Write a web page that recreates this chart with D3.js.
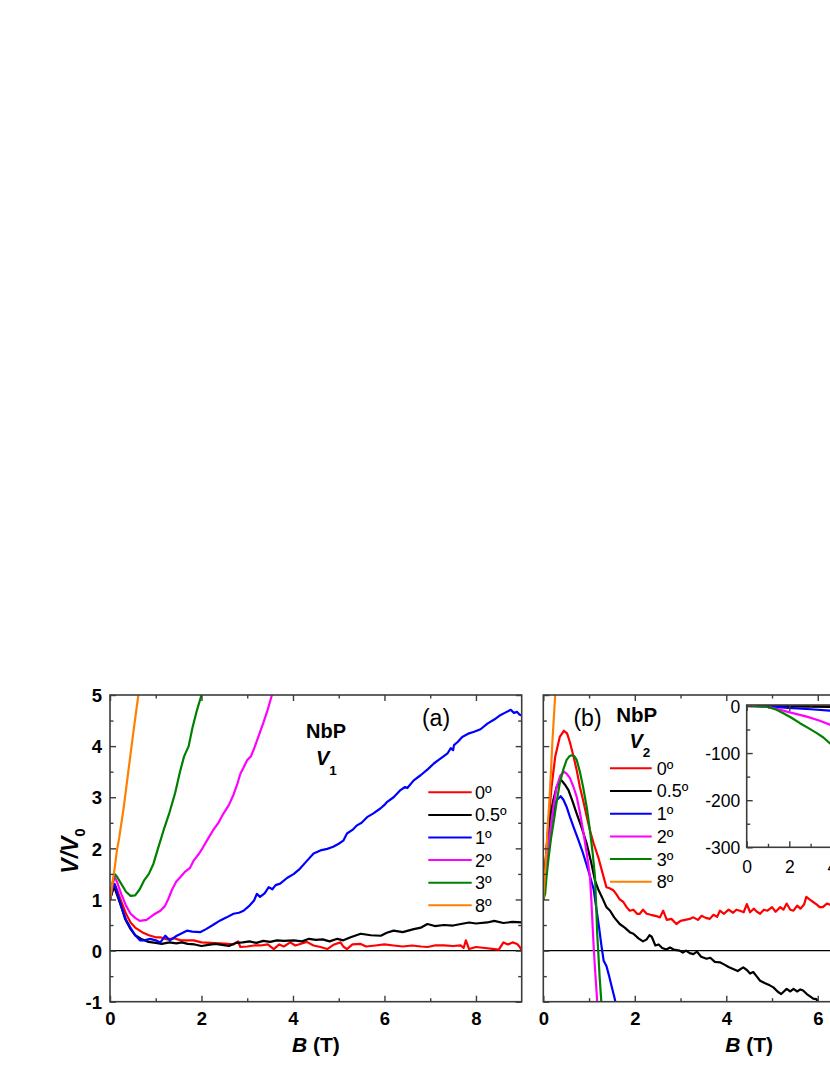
<!DOCTYPE html>
<html><head><meta charset="utf-8">
<script src="https://cdn.jsdelivr.net/npm/d3@7"></script>
<style>
html,body{margin:0;padding:0;background:#fff;}
svg{display:block;}
</style></head><body>
<svg id="chart" width="830" height="1075"></svg>
<script>
// ---------------- DATA ----------------
const angleLabels = ["0º","0.5º","1º","2º","3º","8º"];
const seriesColors = ["#ff0000","#000000","#0000ff","#ff00ff","#008000","#ff8000"];

const mainXTicks = [0,2,4,6,8];
const mainXMinor = [1,3,5,7];
const mainYTicks = [-1,0,1,2,3,4,5];
const mainYMinor = [-0.5,0.5,1.5,2.5,3.5,4.5];
const insetXTicks = [0,2,4,6,8];
const insetXMinor = [1,3,5,7];
const insetYTicks = [0,-100,-200,-300];
const insetYMinor = [-50,-150,-250];

// Panel (a): V1, [B (T), V/V0]
const a0 = [[0,1],[0.05,1.15],[0.1,1.3],[0.15,1.2],[0.25,0.95],[0.35,0.72],[0.45,0.55],[0.55,0.45],[0.7,0.36],[0.85,0.3],[1.0,0.26],[1.1,0.26],[1.25,0.22],[1.4,0.24],[1.55,0.2],[1.7,0.2],[1.83,0.2],[2.0,0.16],[2.2,0.15],[2.4,0.14],[2.56,0.13],[2.7,0.12],[2.8,0.18],[2.85,0.07],[3.0,0.08],[3.15,0.1],[3.29,0.1],[3.45,0.12],[3.58,0.03],[3.7,0.12],[3.8,0.08],[3.94,0.16],[4.05,0.1],[4.16,0.13],[4.3,0.17],[4.45,0.1],[4.6,0.07],[4.75,0.03],[4.9,0.12],[5.04,0.16],[5.1,0.08],[5.18,0.03],[5.3,0.12],[5.48,0.13],[5.6,0.08],[5.8,0.1],[6.0,0.12],[6.2,0.1],[6.4,0.08],[6.6,0.1],[6.8,0.08],[6.94,0.07],[7.1,0.1],[7.3,0.1],[7.5,0.09],[7.67,0.1],[7.73,0.05],[7.78,0.2],[7.85,0.03],[8.0,0.07],[8.2,0.05],[8.4,0.03],[8.5,0.02],[8.6,0.16],[8.7,0.12],[8.8,0.16],[8.9,0.13],[8.95,0.08],[9.0,0.0]];
const a05 = [[0,1],[0.05,1.15],[0.09,1.25],[0.15,1.1],[0.25,0.85],[0.33,0.62],[0.45,0.42],[0.55,0.3],[0.7,0.22],[0.84,0.17],[1.0,0.15],[1.13,0.13],[1.3,0.16],[1.45,0.14],[1.57,0.16],[1.7,0.13],[1.85,0.12],[2.0,0.09],[2.15,0.11],[2.3,0.13],[2.45,0.11],[2.6,0.09],[2.75,0.15],[2.9,0.16],[3.05,0.18],[3.2,0.15],[3.35,0.19],[3.5,0.17],[3.65,0.2],[3.8,0.19],[4.02,0.2],[4.2,0.18],[4.35,0.23],[4.5,0.21],[4.65,0.22],[4.8,0.18],[4.97,0.23],[5.1,0.2],[5.26,0.26],[5.48,0.33],[5.7,0.3],[5.92,0.29],[6.05,0.35],[6.2,0.39],[6.4,0.36],[6.64,0.42],[6.8,0.45],[6.94,0.52],[7.1,0.48],[7.3,0.5],[7.5,0.49],[7.67,0.52],[7.85,0.55],[8.0,0.53],[8.25,0.55],[8.4,0.58],[8.6,0.54],[8.8,0.56],[9.0,0.55]];
const a1 = [[0,1],[0.05,1.2],[0.1,1.3],[0.15,1.15],[0.25,0.85],[0.35,0.6],[0.44,0.46],[0.55,0.3],[0.66,0.2],[0.75,0.2],[0.88,0.23],[1.0,0.2],[1.1,0.16],[1.21,0.29],[1.31,0.2],[1.46,0.29],[1.55,0.33],[1.68,0.39],[1.8,0.37],[1.97,0.36],[2.1,0.42],[2.25,0.5],[2.41,0.59],[2.55,0.65],[2.7,0.72],[2.82,0.74],[2.92,0.78],[3.05,0.88],[3.15,0.98],[3.21,1.11],[3.28,1.05],[3.38,1.12],[3.47,1.24],[3.55,1.2],[3.62,1.28],[3.72,1.31],[3.87,1.42],[4.02,1.5],[4.15,1.6],[4.31,1.76],[4.45,1.9],[4.6,1.96],[4.75,1.99],[4.88,2.03],[5.0,2.09],[5.1,2.15],[5.18,2.29],[5.3,2.36],[5.4,2.45],[5.5,2.5],[5.62,2.61],[5.75,2.68],[5.91,2.78],[6.0,2.85],[6.06,2.91],[6.2,3.0],[6.35,3.14],[6.45,3.2],[6.5,3.18],[6.64,3.33],[6.79,3.43],[6.95,3.55],[7.08,3.66],[7.2,3.74],[7.38,3.86],[7.45,3.96],[7.5,3.92],[7.52,4.02],[7.6,4.08],[7.7,4.18],[7.85,4.25],[7.96,4.28],[8.1,4.33],[8.25,4.44],[8.4,4.52],[8.54,4.61],[8.65,4.66],[8.76,4.71],[8.83,4.65],[8.9,4.67],[8.95,4.62],[9.0,4.6]];
const a2 = [[0,1],[0.05,1.25],[0.1,1.45],[0.15,1.35],[0.25,1.1],[0.35,0.88],[0.45,0.72],[0.55,0.64],[0.65,0.58],[0.8,0.6],[0.95,0.7],[1.1,0.78],[1.2,0.87],[1.28,1.02],[1.36,1.2],[1.45,1.35],[1.55,1.45],[1.65,1.55],[1.75,1.62],[1.83,1.76],[1.95,1.9],[2.04,2.03],[2.15,2.2],[2.25,2.35],[2.37,2.5],[2.48,2.68],[2.6,2.85],[2.7,3.05],[2.78,3.25],[2.85,3.46],[2.92,3.58],[3.0,3.73],[3.08,3.8],[3.15,3.95],[3.25,4.2],[3.35,4.45],[3.45,4.72],[3.54,5.0]];
const a3 = [[0,1],[0.05,1.3],[0.1,1.5],[0.15,1.45],[0.25,1.3],[0.35,1.15],[0.45,1.07],[0.55,1.08],[0.65,1.2],[0.75,1.38],[0.85,1.5],[0.95,1.7],[1.05,2.0],[1.17,2.35],[1.3,2.7],[1.42,3.07],[1.53,3.5],[1.62,3.8],[1.72,4.0],[1.8,4.35],[1.9,4.7],[2.0,5.0]];
const a8 = [[0,1],[0.05,1.3],[0.1,1.6],[0.15,1.95],[0.2,2.2],[0.3,2.8],[0.4,3.5],[0.5,4.2],[0.62,5.0]];

// Panel (b): V2, [B (T), V/V0]
const b0 = [[0,1],[0.05,1.7],[0.11,2.48],[0.18,3.2],[0.26,3.79],[0.36,4.18],[0.45,4.3],[0.52,4.25],[0.58,4.08],[0.66,3.8],[0.73,3.53],[0.8,3.2],[0.87,2.94],[0.95,2.62],[1.02,2.35],[1.1,2.1],[1.2,1.83],[1.3,1.5],[1.38,1.24],[1.45,1.22],[1.53,1.18],[1.6,1.1],[1.67,1.0],[1.75,0.95],[1.82,0.85],[1.89,0.78],[1.97,0.8],[2.05,0.72],[2.11,0.72],[2.18,0.8],[2.26,0.72],[2.35,0.7],[2.45,0.68],[2.55,0.65],[2.62,0.78],[2.7,0.6],[2.8,0.62],[2.91,0.52],[3.0,0.58],[3.1,0.6],[3.2,0.62],[3.28,0.65],[3.38,0.6],[3.46,0.68],[3.55,0.64],[3.64,0.62],[3.72,0.7],[3.8,0.66],[3.86,0.78],[3.95,0.72],[4.05,0.8],[4.15,0.74],[4.22,0.8],[4.3,0.78],[4.38,0.75],[4.45,0.91],[4.52,0.75],[4.6,0.82],[4.67,0.76],[4.74,0.72],[4.82,0.8],[4.9,0.78],[5.0,0.85],[5.08,0.76],[5.18,0.85],[5.25,0.8],[5.32,0.92],[5.4,0.8],[5.47,0.78],[5.55,0.88],[5.62,0.82],[5.7,0.9],[5.75,1.05],[5.82,1.0],[5.9,0.95],[5.98,0.9],[6.04,0.85],[6.11,0.85],[6.2,0.92],[6.26,0.9],[6.35,0.88],[6.45,0.95]];
const b05 = [[0,1],[0.05,1.75],[0.1,2.3],[0.15,2.61],[0.22,2.95],[0.29,3.2],[0.35,3.3],[0.4,3.33],[0.47,3.25],[0.55,3.14],[0.64,2.92],[0.73,2.68],[0.84,2.4],[0.95,2.09],[1.04,1.75],[1.13,1.37],[1.2,1.2],[1.28,1.05],[1.38,0.85],[1.46,0.78],[1.55,0.65],[1.67,0.52],[1.78,0.45],[1.89,0.36],[1.97,0.33],[2.08,0.24],[2.18,0.18],[2.26,0.22],[2.32,0.3],[2.37,0.27],[2.45,0.1],[2.52,0.12],[2.6,0.05],[2.69,0.02],[2.77,0.06],[2.85,0.02],[2.98,0.0],[3.05,-0.04],[3.12,0.0],[3.2,-0.05],[3.28,-0.07],[3.36,-0.02],[3.45,-0.12],[3.57,-0.16],[3.65,-0.14],[3.75,-0.22],[3.86,-0.23],[3.95,-0.27],[4.05,-0.32],[4.15,-0.36],[4.25,-0.4],[4.37,-0.33],[4.45,-0.38],[4.52,-0.45],[4.59,-0.42],[4.66,-0.5],[4.74,-0.59],[4.85,-0.64],[4.95,-0.68],[5.03,-0.72],[5.12,-0.8],[5.2,-0.85],[5.32,-0.75],[5.4,-0.8],[5.47,-0.75],[5.55,-0.8],[5.62,-0.76],[5.68,-0.78],[5.76,-0.85],[5.84,-0.9],[5.9,-0.94],[5.97,-0.95],[6.0,-1.0],[6.05,-1.02]];
const b1 = [[0,1],[0.05,1.6],[0.1,2.05],[0.15,2.35],[0.22,2.7],[0.29,2.94],[0.38,3.02],[0.44,2.95],[0.51,2.81],[0.58,2.62],[0.66,2.42],[0.76,2.18],[0.87,1.9],[0.98,1.58],[1.1,1.2],[1.18,0.7],[1.22,0.45],[1.27,0.1],[1.32,-0.2],[1.38,-0.3],[1.44,-0.5],[1.5,-0.72],[1.55,-0.9],[1.58,-1.02]];
const b2 = [[0,1],[0.05,1.5],[0.1,1.95],[0.15,2.3],[0.22,2.8],[0.29,3.2],[0.37,3.42],[0.45,3.5],[0.52,3.45],[0.58,3.38],[0.66,3.2],[0.73,3.01],[0.8,2.7],[0.87,2.35],[0.95,1.9],[1.02,1.44],[1.05,1.0],[1.08,0.45],[1.1,0.1],[1.13,-0.35],[1.16,-0.75],[1.18,-1.02]];
const b3 = [[0,1],[0.04,1.11],[0.07,1.44],[0.12,1.85],[0.17,2.2],[0.22,2.48],[0.29,2.9],[0.36,3.27],[0.44,3.55],[0.51,3.73],[0.57,3.8],[0.62,3.82],[0.68,3.8],[0.73,3.73],[0.8,3.5],[0.87,3.2],[0.95,2.8],[1.02,2.35],[1.08,1.9],[1.13,1.44],[1.16,0.8],[1.18,0.3],[1.2,0.0],[1.23,-0.5],[1.27,-1.02]];
const b8 = [[0,1],[0.05,1.7],[0.1,2.45],[0.15,3.2],[0.2,4.1],[0.26,5.0]];

// Inset of panel (b): [B (T), V/V0]
const i0 = [[0,0],[2,0.5],[4,1],[4.5,1]];
const i05 = [[0,0],[2,-1],[4,-2],[4.5,-2]];
const i1 = [[0,0],[1,-1],[1.95,-4],[3,-7],[3.9,-10],[4.5,-12]];
const i2 = [[0,0],[0.5,-0.5],[1,-2],[1.5,-7],[1.88,-12],[2.4,-18],[2.82,-22.6],[3.4,-31],[3.91,-40],[4.5,-50]];
const i3 = [[0,0],[0.5,-0.5],[1.0,-2],[1.4,-8],[1.72,-15.5],[2.1,-25],[2.5,-36.6],[2.9,-47],[3.29,-57.7],[3.6,-67],[3.9,-79],[4.5,-100]];
const i8 = [[0,0],[0.3,2],[0.6,5]];

const panelASeries = [a0,a05,a1,a2,a3,a8];
const panelBSeries = [b0,b05,b1,b2,b3,b8];
const insetSeries = [i0,i05,i1,i2,i3,i8];

// ---------------- DRAW ----------------
const FONT = '"Liberation Sans", Arial, Helvetica, sans-serif';
const FRAME = "#3c3c3c";
const W = 830;
const svg = d3.select("#chart").attr("font-family", FONT);

const fmt = d => String(d);

function axes(g, x, y, box, o) {
  const mk = (axisFn, scale, vals, len, labels, tr) => {
    const a = axisFn(scale).tickValues(vals).tickSize(-len).tickPadding(o.pad)
      .tickFormat(labels ? fmt : "");
    const ag = g.append("g").attr("transform", tr).call(a);
    ag.select(".domain").remove();
    ag.attr("font-family", FONT).attr("font-size", o.fs).attr("font-weight", o.fw);
    ag.selectAll("line").attr("stroke", FRAME).attr("stroke-width", 1.4);
    ag.selectAll("text").attr("fill", "#000");
    // labels whose centre lies wholly beyond the page are not part of the picture
    ag.selectAll(".tick").filter(d => axisFn === d3.axisBottom && scale(d) - 6 > W)
      .select("text").remove();
    return ag;
  };
  const tb = `translate(0,${box.bottom})`, tt = `translate(0,${box.top})`;
  const tl = `translate(${box.left},0)`, trr = `translate(${box.right},0)`;
  const bx = mk(d3.axisBottom, x, o.xt, o.maj, true, tb);
  bx.selectAll("text").attr("dy", null).attr("y", o.padX);
  mk(d3.axisBottom, x, o.xm, o.min, false, tb);
  mk(d3.axisTop, x, o.xt, o.maj, false, tt);
  mk(d3.axisTop, x, o.xm, o.min, false, tt);
  const ly = mk(d3.axisLeft, y, o.yt, o.maj, o.yLabels, tl);
  ly.selectAll("text").attr("dy", "0.36em");
  mk(d3.axisLeft, y, o.ym, o.min, false, tl);
  mk(d3.axisRight, y, o.yt, o.maj, false, trr);
  mk(d3.axisRight, y, o.ym, o.min, false, trr);
  g.append("rect").attr("x", box.left).attr("y", box.top)
    .attr("width", box.right - box.left).attr("height", box.bottom - box.top)
    .attr("fill", "none").attr("stroke", FRAME).attr("stroke-width", 1.6);
}

function curves(g, x, y, box, list, id, sw) {
  g.append("clipPath").attr("id", id).append("rect")
    .attr("x", box.left).attr("y", box.top)
    .attr("width", box.right - box.left).attr("height", box.bottom - box.top);
  const line = d3.line().x(d => x(d[0])).y(d => y(d[1]));
  const cg = g.append("g").attr("clip-path", `url(#${id})`);
  list.forEach((s, i) => {
    cg.append("path").attr("d", line(s)).attr("fill", "none")
      .attr("stroke", seriesColors[i]).attr("stroke-width", sw)
      .attr("stroke-linejoin", "round").attr("stroke-linecap", "round");
  });
}

function legend(g, lx0, lx1, tx, y0, dy) {
  angleLabels.forEach((lab, i) => {
    const yy = y0 + i * dy;
    g.append("line").attr("x1", lx0).attr("x2", lx1).attr("y1", yy).attr("y2", yy)
      .attr("stroke", seriesColors[i]).attr("stroke-width", 2);
    g.append("text").attr("x", tx).attr("y", yy).attr("dy", "0.36em")
      .attr("font-size", 18).attr("fill", "#000").text(lab);
  });
}

function panel(box, series, id) {
  const g = svg.append("g");
  const x = d3.scaleLinear().domain([0, 9]).range([box.left, box.right]);
  const y = d3.scaleLinear().domain([-1, 5]).range([box.bottom, box.top]);
  g.append("line").attr("x1", box.left).attr("x2", box.right)
    .attr("y1", y(0)).attr("y2", y(0)).attr("stroke", "#000").attr("stroke-width", 1.3);
  curves(g, x, y, box, series, id, 2.2);
  axes(g, x, y, box, {xt: mainXTicks, xm: mainXMinor, yt: mainYTicks, ym: mainYMinor,
    maj: 6, min: 3.5, pad: 8, padX: 23.5, fs: 18.5, fw: "bold", yLabels: id === "clipA"});
  g.append("text").attr("x", (box.left + box.right) / 2).attr("y", 1051.7)
    .attr("text-anchor", "middle").attr("font-size", 21).attr("font-weight", "bold")
    .call(t => {
      t.append("tspan").attr("font-style", "italic").text("B");
      t.append("tspan").text(" (T)");
    });
  return {g, x, y};
}

const boxA = {left: 110, right: 521.7, top: 695, bottom: 1001.7};
const boxB = {left: 543.3, right: 955, top: 695, bottom: 1001.7};

const pA = panel(boxA, panelASeries, "clipA");
const pB = panel(boxB, panelBSeries, "clipB");

// Y axis title
svg.append("text").attr("transform", "translate(78,851) rotate(-90)")
  .attr("text-anchor", "middle").attr("font-size", 23).attr("font-weight", "bold")
  .call(t => {
    t.append("tspan").attr("font-style", "italic").text("V/V");
    t.append("tspan").attr("font-size", 15).attr("dy", 7).text("0");
  });

// Panel (a) annotations
pA.g.append("text").attr("x", 436).attr("y", 725.5).attr("text-anchor", "middle")
  .attr("font-size", 23).text("(a)");
pA.g.append("text").attr("x", 326).attr("y", 738.3).attr("text-anchor", "middle")
  .attr("font-size", 20).attr("font-weight", "bold").text("NbP");
pA.g.append("text").attr("x", 316).attr("y", 765).attr("font-size", 20).attr("font-weight", "bold")
  .call(t => {
    t.append("tspan").attr("font-style", "italic").text("V");
    t.append("tspan").attr("font-size", 13.5).attr("dy", 10).text("1");
  });
legend(pA.g, 428.3, 471.7, 475, 792.3, 22.6);

// Panel (b) annotations
pB.g.append("text").attr("x", 587.5).attr("y", 725.5).attr("text-anchor", "middle")
  .attr("font-size", 23).text("(b)");
pB.g.append("text").attr("x", 636.7).attr("y", 721.7).attr("text-anchor", "middle")
  .attr("font-size", 20.5).attr("font-weight", "bold").text("NbP");
pB.g.append("text").attr("x", 629.5).attr("y", 748.3).attr("font-size", 20).attr("font-weight", "bold")
  .call(t => {
    t.append("tspan").attr("font-style", "italic").text("V");
    t.append("tspan").attr("font-size", 13.5).attr("dy", 9).text("2");
  });
legend(pB.g, 610, 651.7, 656.7, 768.3, 22.7);

// Inset
const boxI = {left: 746.7, right: 938.4, top: 705, bottom: 847.3};
const gi = svg.append("g");
gi.append("rect").attr("x", boxI.left).attr("y", boxI.top)
  .attr("width", boxI.right - boxI.left).attr("height", boxI.bottom - boxI.top).attr("fill", "#fff");
const xi = d3.scaleLinear().domain([0, 9]).range([boxI.left, boxI.right]);
const yi = d3.scaleLinear().domain([-300, 2]).range([boxI.bottom, boxI.top]);
curves(gi, xi, yi, boxI, insetSeries, "clipI", 2.2);
axes(gi, xi, yi, boxI, {xt: insetXTicks, xm: insetXMinor, yt: insetYTicks, ym: insetYMinor,
  maj: 6, min: 3.5, pad: 6.5, padX: 25.5, fs: 17.5, fw: "normal", yLabels: true});
</script>
</body></html>
